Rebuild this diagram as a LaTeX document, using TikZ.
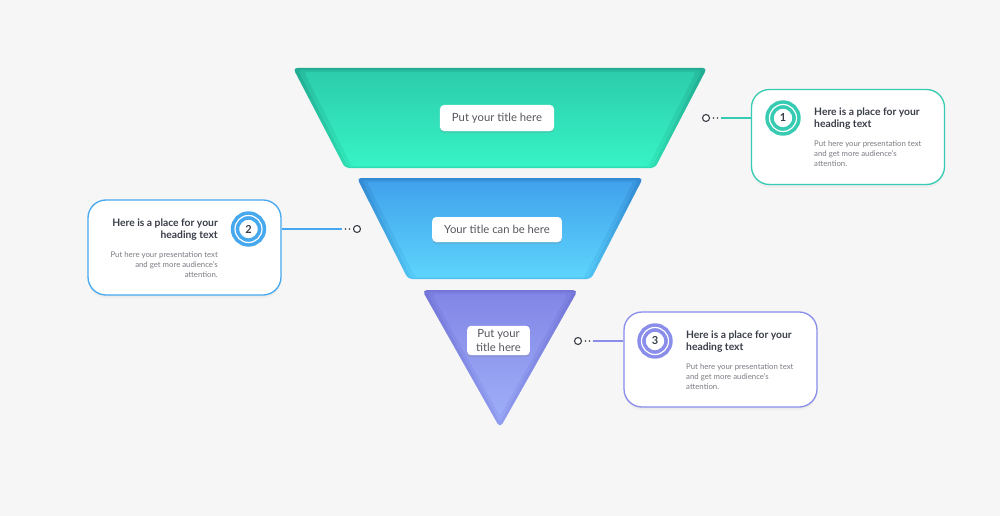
\documentclass[tikz,border=0pt]{standalone}
\usepackage{fontspec}
\setmainfont{Lato}
\usepackage{tikz}
\usetikzlibrary{shapes,arrows,positioning,calc,shadows}
\usepackage{xcolor}
\definecolor{bgc}{HTML}{F6F6F6}
\definecolor{tealc}{HTML}{36CBB2}
\definecolor{bluec}{HTML}{46A8EE}
\definecolor{purc}{HTML}{8A8DEA}
\definecolor{headc}{HTML}{3A3E48}
\definecolor{bodyc}{HTML}{7B7D84}
\definecolor{labc}{HTML}{55575E}
\definecolor{tealtopd}{HTML}{22AB92}
\definecolor{tealtop}{HTML}{2CCDAC}
\definecolor{tealbot}{HTML}{37F3C5}
\definecolor{tealbotd}{HTML}{2EDEB2}
\definecolor{bluetopd}{HTML}{3389D2}
\definecolor{bluetop}{HTML}{41A2EC}
\definecolor{bluebot}{HTML}{5DD4FC}
\definecolor{bluebotd}{HTML}{4FC2F2}
\definecolor{purtopd}{HTML}{7376D8}
\definecolor{purtop}{HTML}{8286E6}
\definecolor{purbot}{HTML}{9EAEF7}
\definecolor{purbotd}{HTML}{919EF0}

\begin{document}
\begin{tikzpicture}[x=1pt, y=-1pt,
  titlebox/.style={fill=white, rounded corners=4pt, drop shadow={opacity=0.2, shadow xshift=0pt, shadow yshift=-2pt},
    text=labc, font=\fontsize{11.3}{13.3}\selectfont, inner xsep=12pt, align=center},
  card/.style={draw=#1, line width=1.3pt, fill=white, rounded corners=18pt, minimum width=193pt, minimum height=95pt,
    drop shadow={opacity=0.07, shadow xshift=0pt, shadow yshift=-3pt}},
  badge/.style={circle, fill=white, draw=#1, line width=3.6pt, double=white, double distance=1.2pt,
    minimum size=27pt, inner sep=0pt, text=headc, font=\bfseries\fontsize{11}{12}\selectfont},
  head/.style={text=headc, font=\bfseries\fontsize{10.3}{11.8}\selectfont, inner sep=0pt},
  body/.style={text=bodyc, font=\fontsize{7.8}{9.6}\selectfont, inner sep=0pt},
  pin/.style={circle, draw=headc, fill=white, line width=1.1pt, minimum size=7pt, inner sep=0pt},
  dot/.style={circle, fill=headc, minimum size=1.6pt, inner sep=0pt},
  link/.style={line width=1.1pt, draw=#1}]

\useasboundingbox (0,0) rectangle (1000,516);
\fill[bgc] (0,0) rectangle (1000,516);

% funnel
\shade[top color=tealtopd, bottom color=tealbotd, rounded corners=4pt] (293,68) -- (707,68) -- (655,168) -- (345,168) -- cycle;
\shade[top color=tealtopd!50!tealtop, bottom color=tealbotd!50!tealbot, rounded corners=3pt] (298,70) -- (702,70) -- (652,167) -- (348,167) -- cycle;
\shade[top color=tealtop, bottom color=tealbot, rounded corners=3pt] (304,72) -- (696,72) -- (648,166) -- (352,166) -- cycle;
\shade[top color=bluetopd, bottom color=bluebotd, rounded corners=4pt] (357,178) -- (643,178) -- (591,279) -- (408,279) -- cycle;
\shade[top color=bluetopd!50!bluetop, bottom color=bluebotd!50!bluebot, rounded corners=3pt] (362,180) -- (638,180) -- (588,278) -- (411,278) -- cycle;
\shade[top color=bluetop, bottom color=bluebot, rounded corners=3pt] (367,182) -- (633,182) -- (584,277) -- (415,277) -- cycle;
\shade[top color=purtopd, bottom color=purbotd, rounded corners=5pt] (422,290) -- (578,290) -- (500,428) -- cycle;
\shade[top color=purtopd!50!purtop, bottom color=purbotd!50!purbot, rounded corners=4pt] (427,292) -- (573,292) -- (500,422) -- cycle;
\shade[top color=purtop, bottom color=purbot, rounded corners=4pt] (432,294) -- (568,294) -- (500,416) -- cycle;

\node[titlebox, minimum height=26pt] (title1) at (497,118) {Put your title here};
\node[titlebox, minimum height=25pt] (title2) at (497,229.5) {Your title can be here};
\node[titlebox, inner xsep=9pt, inner ysep=4pt] (title3) at (498.5,340.5) {Put your\\title here};

% callout 1
\node[card=tealc] (card1) at (848,137) {};
\node[badge=tealc] (num1) at (783,118) {1};
\node[head, anchor=north west, align=left] (head1) at (814,107.5) {Here is a place for your\\heading text};
\node[body, anchor=north west, align=left] (text1) at (814,141) {Put here your presentation text\\and get more audience's\\attention.};
\node[pin] (pin1) at (706,118) {};
\node[dot] (dot1a) at (713.5,118) {};
\node[dot] (dot1b) at (717.5,118) {};
\coordinate (end1) at (721,118);
\draw[link=tealc] (end1) -- (card1.west |- end1);

% callout 2
\node[card=bluec] (card2) at (184.5,247.5) {};
\node[badge=bluec] (num2) at (248.5,229) {2};
\node[head, anchor=north east, align=right] (head2) at (218,218.5) {Here is a place for your\\heading text};
\node[body, anchor=north east, align=right] (text2) at (218,252) {Put here your presentation text\\and get more audience's\\attention.};
\node[pin] (pin2) at (357,229) {};
\node[dot] (dot2a) at (349.5,229) {};
\node[dot] (dot2b) at (345.5,229) {};
\coordinate (end2) at (342,229);
\draw[link=bluec] (end2) -- (card2.east |- end2);

% callout 3
\node[card=purc] (card3) at (720.5,359.5) {};
\node[badge=purc] (num3) at (655,341) {3};
\node[head, anchor=north west, align=left] (head3) at (686,330.5) {Here is a place for your\\heading text};
\node[body, anchor=north west, align=left] (text3) at (686,364) {Put here your presentation text\\and get more audience's\\attention.};
\node[pin] (pin3) at (578,341) {};
\node[dot] (dot3a) at (585.5,341) {};
\node[dot] (dot3b) at (589.5,341) {};
\coordinate (end3) at (593,341);
\draw[link=purc] (end3) -- (card3.west |- end3);
\end{tikzpicture}
\end{document}
